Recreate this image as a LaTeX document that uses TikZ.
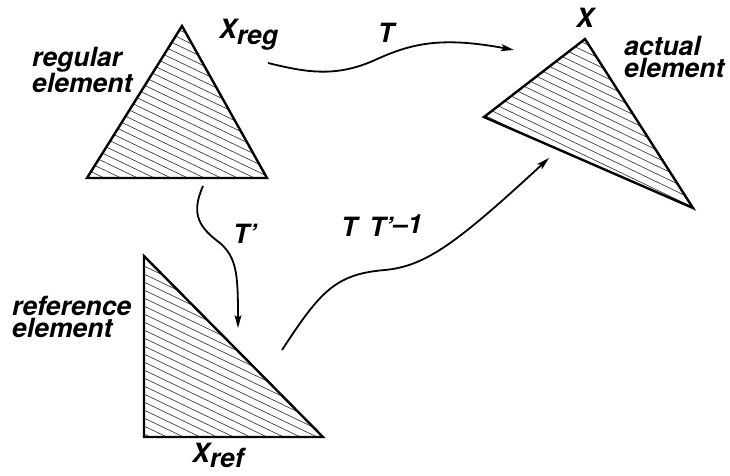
\documentclass[tikz,border=0pt]{standalone}
\usepackage{fontspec}
\setmainfont{TeX Gyre Heros}
\usetikzlibrary{arrows.meta}
\begin{document}
\begin{tikzpicture}[x=1pt,y=-1pt,
  lbl/.style={font=\fontsize{26.5}{21.5}\selectfont\bfseries\itshape, inner sep=0pt, align=left},
  conn/.style={line width=1.8pt, -{Stealth[length=13pt,width=7pt,inset=3pt]}},
  tri/.style={line width=2.4pt, line join=miter},
  hatch/.style={line width=0.7pt, black!75}]
\useasboundingbox (0,0) rectangle (730,475);
% triangle vertices
\coordinate (ra) at (182,26);  \coordinate (rb) at (87,178);  \coordinate (rc) at (267,178);
\coordinate (aa) at (585,39);  \coordinate (ab) at (484,117); \coordinate (ac) at (693,208);
\coordinate (fa) at (144,256); \coordinate (fb) at (144,437); \coordinate (fc) at (323,437);
% hatching
\begin{scope}
  \clip (ra)--(rb)--(rc)--cycle;
  \foreach \k in {-80,...,80} \draw[hatch] (0,\k*8) -- (730,\k*8+350);
\end{scope}
\begin{scope}
  \clip (aa)--(ab)--(ac)--cycle;
  \foreach \k in {-80,...,80} \draw[hatch] (0,\k*8+3) -- (730,\k*8+353);
\end{scope}
\begin{scope}
  \clip (fa)--(fb)--(fc)--cycle;
  \foreach \k in {-80,...,80} \draw[hatch] (0,\k*8+5) -- (730,\k*8+355);
\end{scope}
% outlines
\draw[tri] (ra)--(rb)--(rc)--cycle;
\draw[tri] (aa)--(ab)--(ac)--cycle;
\draw[tri] (fa)--(fb)--(fc)--cycle;
% labels
\node[lbl, anchor=west] (lreg) at (32,70) {regular\\element};
\node[lbl, anchor=west] (lact) at (624,57) {actual\\element};
\node[lbl, anchor=west] (lref) at (12,317) {reference\\element};
\node[lbl, anchor=base west] (xreg) at (219,38) {X\raisebox{-6pt}{reg}};
\node[lbl, anchor=base] (xact) at (585,27) {X};
\node[lbl, anchor=base west] (xref) at (192,462) {X\raisebox{-5pt}{ref}};
\node[lbl, anchor=base] (tlab) at (386,42) {T};
\node[lbl, anchor=base west] (tplab) at (233,243) {T’};
\node[lbl, anchor=base west] (ttlab) at (341,236) {T\hspace{12pt}T’\raisebox{3pt}{–1}};
% connectors
\coordinate (t1s) at (268,63);  \coordinate (t1e) at (514,50);
\coordinate (t2s) at (203,186); \coordinate (t2e) at (238,328);
\coordinate (t3s) at (282,350); \coordinate (t3e) at (549,158);
\draw[conn] (t1s) .. controls (305,72) and (335,78) .. (375,60)
  .. controls (410,44) and (440,36) .. (t1e);
\draw[conn] (t2s) .. controls (190,215) and (200,228) .. (220,243)
  .. controls (237,258) and (238,275) .. (t2e);
\draw[conn] (t3s) .. controls (320,292) and (335,274) .. (385,270)
  .. controls (425,266) and (455,245) .. (t3e);
\end{tikzpicture}
\end{document}
